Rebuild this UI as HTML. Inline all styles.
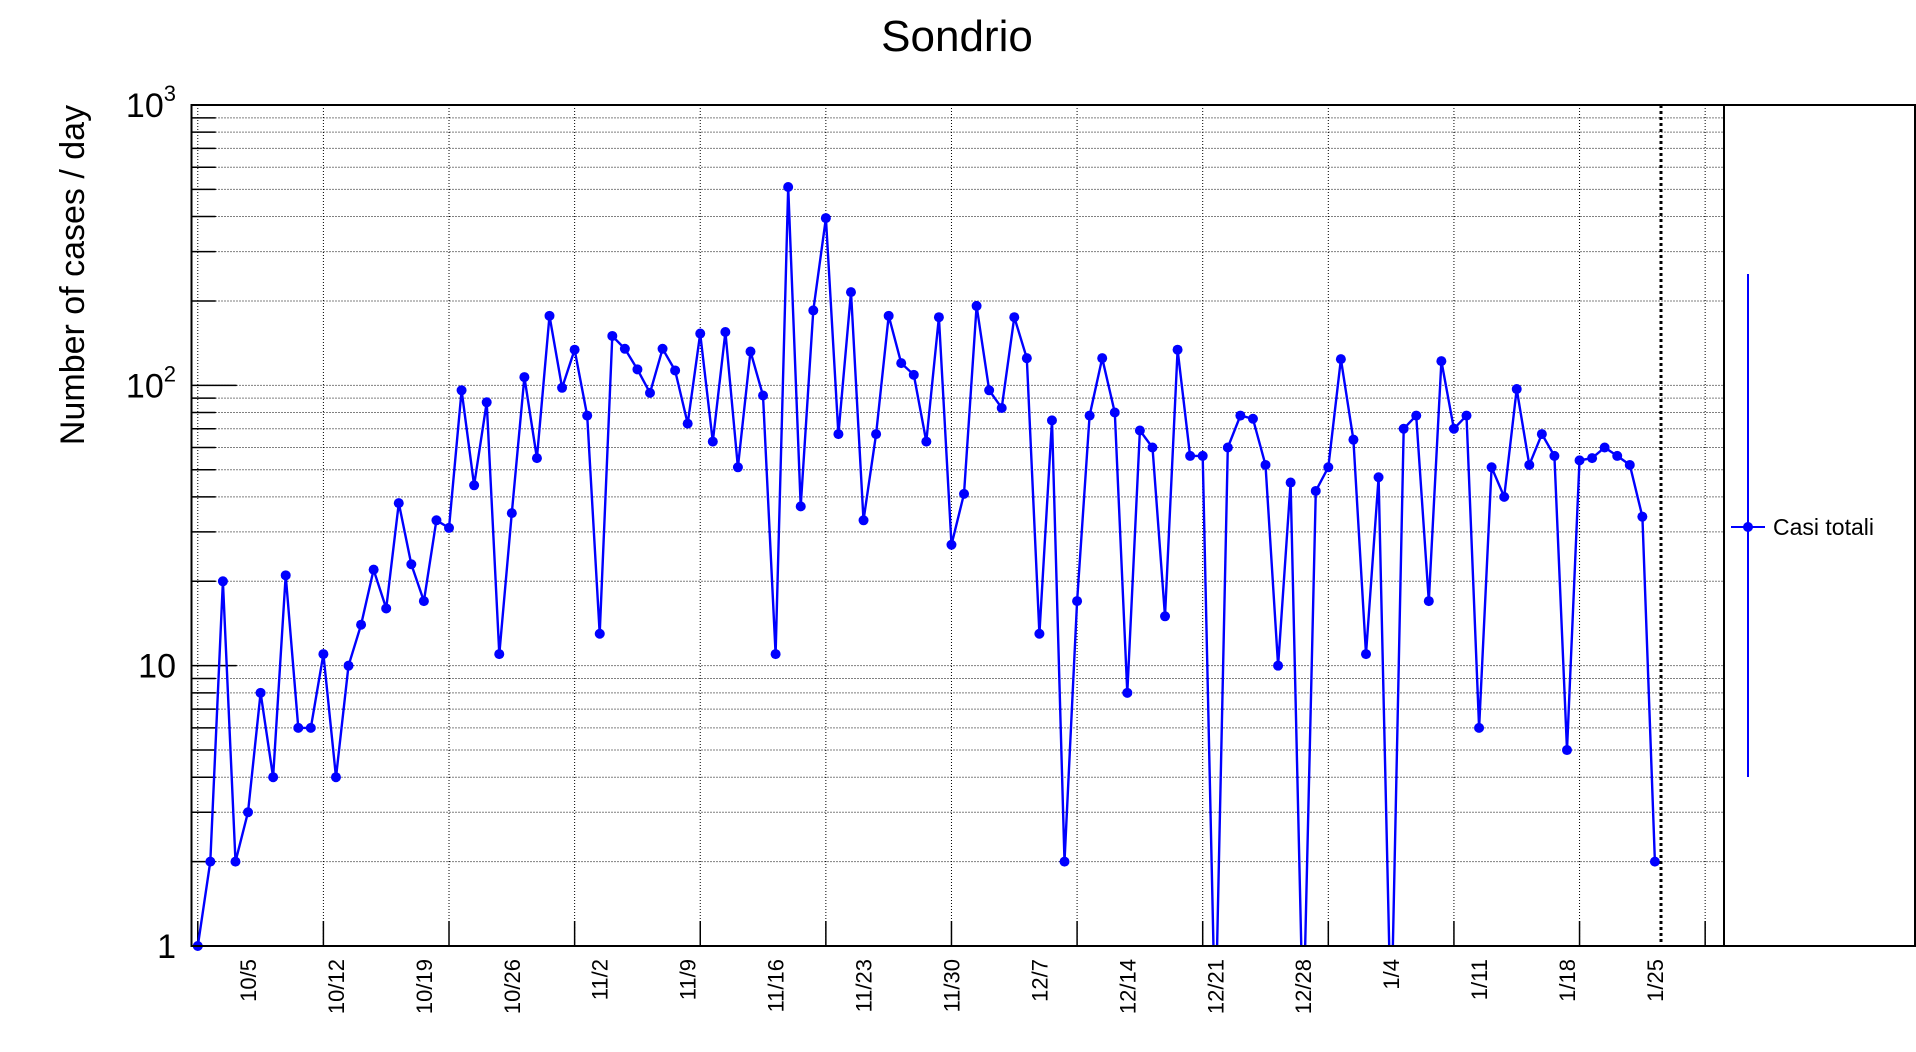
<!DOCTYPE html>
<html><head><meta charset="utf-8"><style>
html,body{margin:0;padding:0;background:#fff;overflow:hidden;width:1916px;height:1052px;}
svg{display:block;font-family:"Liberation Sans",sans-serif;}
</style></head><body>
<svg id="chart" width="1916" height="1052" viewBox="0 0 1916 1052" xmlns="http://www.w3.org/2000/svg">
<text x="957" y="51" font-size="44" text-anchor="middle">Sondrio</text>
<text transform="translate(84,275) rotate(-90)" font-size="34" text-anchor="middle">Number of cases / day</text>
<g id="grid"></g>
<g id="axes"></g>
<g id="series"></g>
<line x1="1661" y1="105" x2="1661" y2="946" stroke="#000" stroke-width="3" stroke-dasharray="3,3"/>
<rect x="191.5" y="105" width="1532.5" height="841" fill="none" stroke="#000" stroke-width="2"/>
<g>
<rect x="1724" y="105" width="191" height="841" fill="none" stroke="#000" stroke-width="2"/>
<g>
<line x1="1748" y1="274" x2="1748" y2="777" stroke="#0000ff" stroke-width="2"/>
<line x1="1731" y1="527" x2="1765" y2="527" stroke="#0000ff" stroke-width="2"/>
<circle cx="1748" cy="527" r="5" fill="#0000ff"/>
<text x="1773" y="535" font-size="23">Casi totali</text>
</g>
</g>
</svg>
<script>
const dateLabels = ["10/5","10/12","10/19","10/26","11/2","11/9","11/16","11/23","11/30","12/7","12/14","12/21","12/28","1/4","1/11","1/18","1/25"];
const yTickLabels = ["1","10","10²","10³"];
const cases = [1,2,20,2,3,8,4,21,6,6,11,4,10,14,22,16,38,23,17,33,31,96,44,87,11,35,107,55,177,98,134,
78,13,150,135,114,94,135,113,73,153,63,155,51,132,92,11,510,37,185,395,67,215,33,67,177,120,109,63,175,27,
41,192,96,83,175,125,13,75,2,17,78,125,80,8,69,60,15,134,56,56,0,60,78,76,52,10,45,0,42,51,124,64,11,47,0,70,
78,17,122,70,78,6,51,40,97,52,67,56,5,54,55,60,56,52,34,2];

const NS="http://www.w3.org/2000/svg";
const L=191.5,R=1724,T=105,B=946,nBins=122,bw=(R-L)/nBins;
const x=i=>L+(i+0.5)*bw;
const y=v=>B-(Math.log10(v))*(B-T)/3;
function mk(tag,attrs,parent){const e=document.createElementNS(NS,tag);for(const k in attrs)e.setAttribute(k,attrs[k]);parent.appendChild(e);return e;}
const grid=document.getElementById('grid'),axes=document.getElementById('axes'),ser=document.getElementById('series');
for(let d=0;d<3;d++)for(let m=1;m<=9;m++){
  const v=m*Math.pow(10,d); if(v===1)continue; const yy=y(v);
  const g=mk('line',{x1:L,x2:R,y1:yy,y2:yy,stroke:'#000','stroke-width':1,'stroke-dasharray':'1,2'},grid);
  
  
  const t=mk('line',{x1:L,x2:L+(m===1?45:24),y1:yy,y2:yy,stroke:'#000','stroke-width':1.5},axes);
  
  
}
yTickLabels.forEach((s,i)=>{
  const yy=y(Math.pow(10,i));
  const t=mk('text',{x:176,y:yy+12,'font-size':34,'text-anchor':'end'},axes);
  
  
  if(i<2)t.textContent=s;else{t.textContent='10';const sp=mk('tspan',{dy:-16,'font-size':22},t);sp.textContent=String(i);}
});
for(let i=0;i<=120;i+=10){
  const xx=x(i);
  const g=mk('line',{x1:xx,x2:xx,y1:T,y2:B,stroke:'#000','stroke-width':1,'stroke-dasharray':'1,2'},grid);
  
  
  const t=mk('line',{x1:xx,x2:xx,y1:B-25,y2:B,stroke:'#000','stroke-width':1.5},axes);
  
  
}
dateLabels.forEach((s,k)=>{
  const xx=x(4+7*k);
  const t=mk('text',{transform:`translate(${xx+8},959) rotate(-90)`,'font-size':22,'text-anchor':'end'},axes);
  
  
  t.textContent=s;
});
const clip=mk('clipPath',{id:'pc'},document.getElementById('chart'));
mk('rect',{x:L,y:T,width:R-L,height:B-T},clip);
const pts=cases.map((v,i)=>x(i).toFixed(1)+','+y(v>0?v:0.5).toFixed(1)).join(' ');
const pl=mk('polyline',{points:pts,fill:'none',stroke:'#0000ff','stroke-width':2.4,'clip-path':'url(#pc)'},ser);


cases.forEach((v,i)=>{
  if(v<=0)return;
  const c=mk('circle',{cx:x(i),cy:y(v),r:5,fill:'#0000ff'},ser);
  
  
});
</script>
</body></html>
